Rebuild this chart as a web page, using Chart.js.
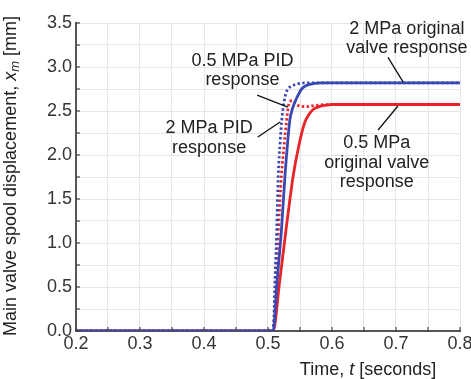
<!DOCTYPE html>
<html>
<head>
<meta charset="utf-8">
<script src="https://cdn.jsdelivr.net/npm/chart.js@4.4.1/dist/chart.umd.min.js"></script>
<style>
  html, body { margin: 0; padding: 0; background: #fff; }
  #wrap { width: 471px; height: 379px; }
</style>
</head>
<body>
<div id="wrap"><canvas id="spoolChart" width="471" height="379"></canvas></div>
<script>
// 2 MPa, original valve (solid blue)
const orig2MPaT = [0.2, 0.508, 0.514, 0.521, 0.5266, 0.534, 0.538, 0.542, 0.547, 0.5526, 0.56, 0.57, 0.585, 0.8];
const orig2MPaY = [0, 0, 0.55, 1.15, 1.77, 2.39, 2.52, 2.6, 2.68, 2.75, 2.79, 2.81, 2.82, 2.82];

// 2 MPa, PID (dotted blue)
const pid2MPaT = [0.2, 0.508, 0.5115, 0.5136, 0.516, 0.519, 0.5214, 0.525, 0.528, 0.531, 0.536, 0.545, 0.56, 0.8];
const pid2MPaY = [0, 0, 0.7, 1.15, 1.77, 2.15, 2.39, 2.6, 2.7, 2.75, 2.78, 2.805, 2.82, 2.82];

// 0.5 MPa, PID (dotted red)
const pid05MPaT = [0.2, 0.508, 0.5125, 0.5162, 0.521, 0.525, 0.529, 0.5317, 0.535, 0.538, 0.542, 0.548, 0.558, 0.575, 0.6, 0.8];
const pid05MPaY = [0, 0, 0.6, 1.15, 1.77, 2.1, 2.39, 2.55, 2.61, 2.62, 2.59, 2.56, 2.55, 2.565, 2.574, 2.574];

// 0.5 MPa, original valve (solid red)
const orig05MPaT = [0.2, 0.508, 0.518, 0.529, 0.5395, 0.548, 0.557, 0.564, 0.571, 0.58, 0.59, 0.6, 0.8];
const orig05MPaY = [0, 0, 0.55, 1.2, 1.77, 2.1, 2.36, 2.46, 2.52, 2.55, 2.565, 2.574, 2.574];

const xTicks = [0.2, 0.3, 0.4, 0.5, 0.6, 0.7, 0.8];
const yTicks = [0.0, 0.5, 1.0, 1.5, 2.0, 2.5, 3.0, 3.5];

const BLUE = 'rgb(58, 72, 180)';
const RED = 'rgb(232, 36, 40)';
const FONT = '"Liberation Sans", Arial, sans-serif';

const toPoints = (ts, ys) => ts.map((t, i) => ({ x: t, y: ys[i] }));

// callout texts, placed in data coordinates
const callouts = [
    { lines: ['2 MPa original', 'valve response'], t: 0.717, v: [3.43, 3.215], from: [0.6875, 3.11], to: [0.711, 2.83] },
    { lines: ['0.5 MPa PID', 'response'], t: 0.46, v: [3.07, 2.85], from: [0.483, 2.68], to: [0.531, 2.545] },
    { lines: ['2 MPa PID', 'response'], t: 0.408, v: [2.305, 2.08], from: [0.484, 2.205], to: [0.519, 2.375] },
    { lines: ['0.5 MPa', 'original valve', 'response'], t: 0.67, v: [2.135, 1.91, 1.69], from: [0.672, 2.284], to: [0.703, 2.557] },
];

const drawRich = (c, parts, cx, cy) => {
    let total = 0;
    parts.forEach(p => { c.font = p.font; total += c.measureText(p.text).width; });
    let x = cx - total / 2;
    parts.forEach(p => {
        c.font = p.font;
        c.fillText(p.text, x, cy + (p.dy || 0));
        x += c.measureText(p.text).width;
    });
};

const decorPlugin = {
    id: 'decor',
    afterDatasetsDraw(chart) {
        const c = chart.ctx;
        const xs = chart.scales.x;
        const ys = chart.scales.y;
        const area = chart.chartArea;
        c.save();

        // inward tick marks
        c.strokeStyle = '#444';
        c.lineWidth = 1.2;
        xs.ticks.forEach(tk => {
            const px = xs.getPixelForValue(tk.value);
            c.beginPath(); c.moveTo(px, area.bottom); c.lineTo(px, area.bottom - 4); c.stroke();
        });
        ys.ticks.forEach(tk => {
            const py = ys.getPixelForValue(tk.value);
            c.beginPath(); c.moveTo(area.left, py); c.lineTo(area.left + 4, py); c.stroke();
        });

        // callouts
        c.fillStyle = '#222';
        c.font = '18px ' + FONT;
        c.textAlign = 'center';
        c.textBaseline = 'middle';
        callouts.forEach(co => {
            co.lines.forEach((ln, i) => {
                c.fillText(ln, xs.getPixelForValue(co.t), ys.getPixelForValue(co.v[i]));
            });
            c.strokeStyle = '#111';
            c.lineWidth = 1.3;
            c.beginPath();
            c.moveTo(xs.getPixelForValue(co.from[0]), ys.getPixelForValue(co.from[1]));
            c.lineTo(xs.getPixelForValue(co.to[0]), ys.getPixelForValue(co.to[1]));
            c.stroke();
        });

        // axis titles
        c.textAlign = 'left';
        c.fillStyle = '#222';
        const normal = '18px ' + FONT;
        const italic = 'italic 18px ' + FONT;
        const small = 'italic 13px ' + FONT;
        drawRich(c, [
            { text: 'Time, ', font: normal },
            { text: 't', font: italic },
            { text: ' [seconds]', font: normal },
        ], 368, 370);

        c.save();
        c.translate(11, 176);
        c.rotate(-Math.PI / 2);
        drawRich(c, [
            { text: 'Main valve spool displacement, ', font: normal },
            { text: 'x', font: italic },
            { text: 'm', font: small, dy: 4 },
            { text: ' [mm]', font: normal },
        ], 0, 0);
        c.restore();

        c.restore();
    },
};

const lineSet = (label, pts, color, dotted) => ({
    label,
    data: pts,
    borderColor: color,
    backgroundColor: color,
    borderWidth: dotted ? 2.8 : 2.8,
    borderDash: dotted ? [2.4, 2.4] : [],
    pointRadius: 0,
    cubicInterpolationMode: 'monotone',
    fill: false,
});

const ctx = document.getElementById('spoolChart').getContext('2d');
const spoolChart = new Chart(ctx, {
    type: 'line',
    data: {
        datasets: [
            lineSet('2 MPa original valve response', toPoints(orig2MPaT, orig2MPaY), BLUE, false),
            lineSet('2 MPa PID response', toPoints(pid2MPaT, pid2MPaY), BLUE, true),
            lineSet('0.5 MPa PID response', toPoints(pid05MPaT, pid05MPaY), RED, true),
            lineSet('0.5 MPa original valve response', toPoints(orig05MPaT, orig05MPaY), RED, false),
        ],
    },
    options: {
        responsive: false,
        animation: false,
        layout: { padding: { top: 23, right: 11, left: 0, bottom: 0 } },
        plugins: { legend: { display: false }, tooltip: { enabled: false } },
        scales: {
            x: {
                type: 'linear',
                min: xTicks[0],
                max: xTicks[xTicks.length - 1],
                afterFit: (scale) => {
                    scale.height = 48;
                    scale.paddingRight = 0;
                    scale.paddingLeft = 0;
                },
                afterBuildTicks: (scale) => {
                    const out = [];
                    for (let i = 0; i <= 12; i++) out.push({ value: +(xTicks[0] + i * 0.05).toFixed(2) });
                    scale.ticks = out;
                },
                ticks: {
                    autoSkip: false,
                    maxRotation: 0,
                    padding: 2,
                    color: '#333',
                    font: { family: FONT, size: 18 },
                    callback: (v) => xTicks.some(t => Math.abs(t - v) < 1e-6) ? v.toFixed(1) : '',
                },
                grid: { color: '#e6e6e6', lineWidth: 1, drawTicks: false },
                border: { color: '#555', width: 2 },
            },
            y: {
                type: 'linear',
                min: yTicks[0],
                max: yTicks[yTicks.length - 1],
                afterFit: (scale) => {
                    scale.width = 76;
                    scale.paddingTop = 0;
                    scale.paddingBottom = 0;
                },
                afterBuildTicks: (scale) => {
                    const out = [];
                    for (let i = 0; i <= 14; i++) out.push({ value: i * 0.25 });
                    scale.ticks = out;
                },
                ticks: {
                    autoSkip: false,
                    padding: 4,
                    color: '#333',
                    font: { family: FONT, size: 18 },
                    callback: (v) => yTicks.some(t => Math.abs(t - v) < 1e-6) ? v.toFixed(1) : '',
                },
                grid: { color: '#e6e6e6', lineWidth: 1, drawTicks: false },
                border: { color: '#555', width: 2 },
            },
        },
    },
    plugins: [decorPlugin],
});
</script>
</body>
</html>
